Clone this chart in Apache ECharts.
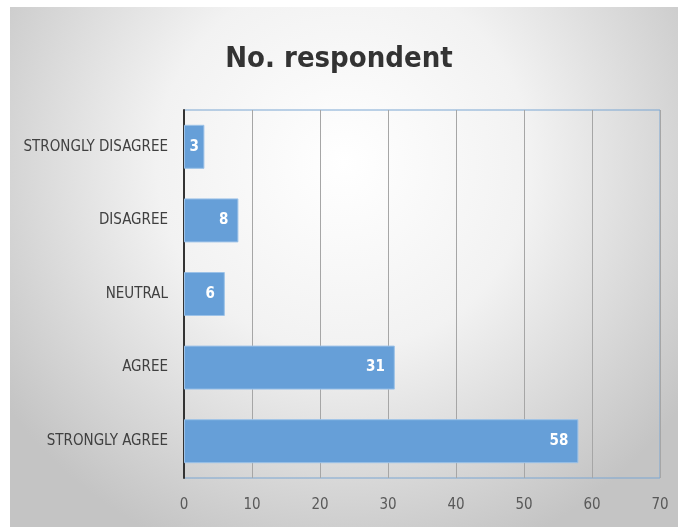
<!DOCTYPE html>
<html><head><meta charset="utf-8">
<script src="https://cdn.jsdelivr.net/npm/echarts@6/dist/echarts.min.js"></script>
<style>html,body{margin:0;padding:0;background:#fff}#c{width:678px;height:529px}</style>
</head><body><div id="c"></div>
<script>
var categories = ['STRONGLY AGREE', 'AGREE', 'NEUTRAL', 'DISAGREE', 'STRONGLY DISAGREE'];
var values = [58, 31, 6, 8, 3];
var titleText = 'No. respondent';
var FONT = '"Liberation Sans Narrow","DejaVu Sans Condensed","Open Sans",sans-serif';
var chart = echarts.init(document.getElementById('c'));
chart.setOption({
  animation: false,
  graphic: [{
    type: 'rect', z: -10, silent: true,
    shape: {x: 10, y: 7, width: 668, height: 520},
    style: {fill: new echarts.graphic.RadialGradient(0.5, 0.3, 0.8, [
      {offset: 0, color: '#ffffff'}, {offset: 0.45, color: '#f2f2f2'}, {offset: 1, color: '#c4c4c4'}])}
  }],
  title: {text: titleText, left: 'center', top: 40,
    textStyle: {fontFamily: FONT, fontSize: 29, fontWeight: 'bold', color: '#333'}},
  grid: {left: 184, right: 18, top: 110, bottom: 51, show: true, borderColor: '#7aa6d2', borderWidth: 1},
  xAxis: {type: 'value', min: 0, max: 70, interval: 10,
    axisLine: {show: false}, axisTick: {show: false},
    splitLine: {lineStyle: {color: '#a6a6a6', width: 1}},
    axisLabel: {fontFamily: FONT, fontSize: 15, color: '#595959', margin: 20}},
  yAxis: {type: 'category', data: categories,
    axisLine: {show: true, lineStyle: {color: '#333', width: 2}}, axisTick: {show: false},
    axisLabel: {fontFamily: FONT, fontSize: 15, color: '#404040', margin: 16}},
  series: [{type: 'bar', barWidth: 44,
    data: values.map(function (v) { return v < 5 ? {value: v, label: {position: 'inside', distance: 0}} : v; }),
    itemStyle: {color: '#669fd8', borderColor: '#9cc2e8', borderWidth: 1},
    label: {show: true, position: 'insideRight', color: '#fff', fontWeight: 'bold', fontSize: 15, fontFamily: FONT, distance: 10}}]
});
</script></body></html>
